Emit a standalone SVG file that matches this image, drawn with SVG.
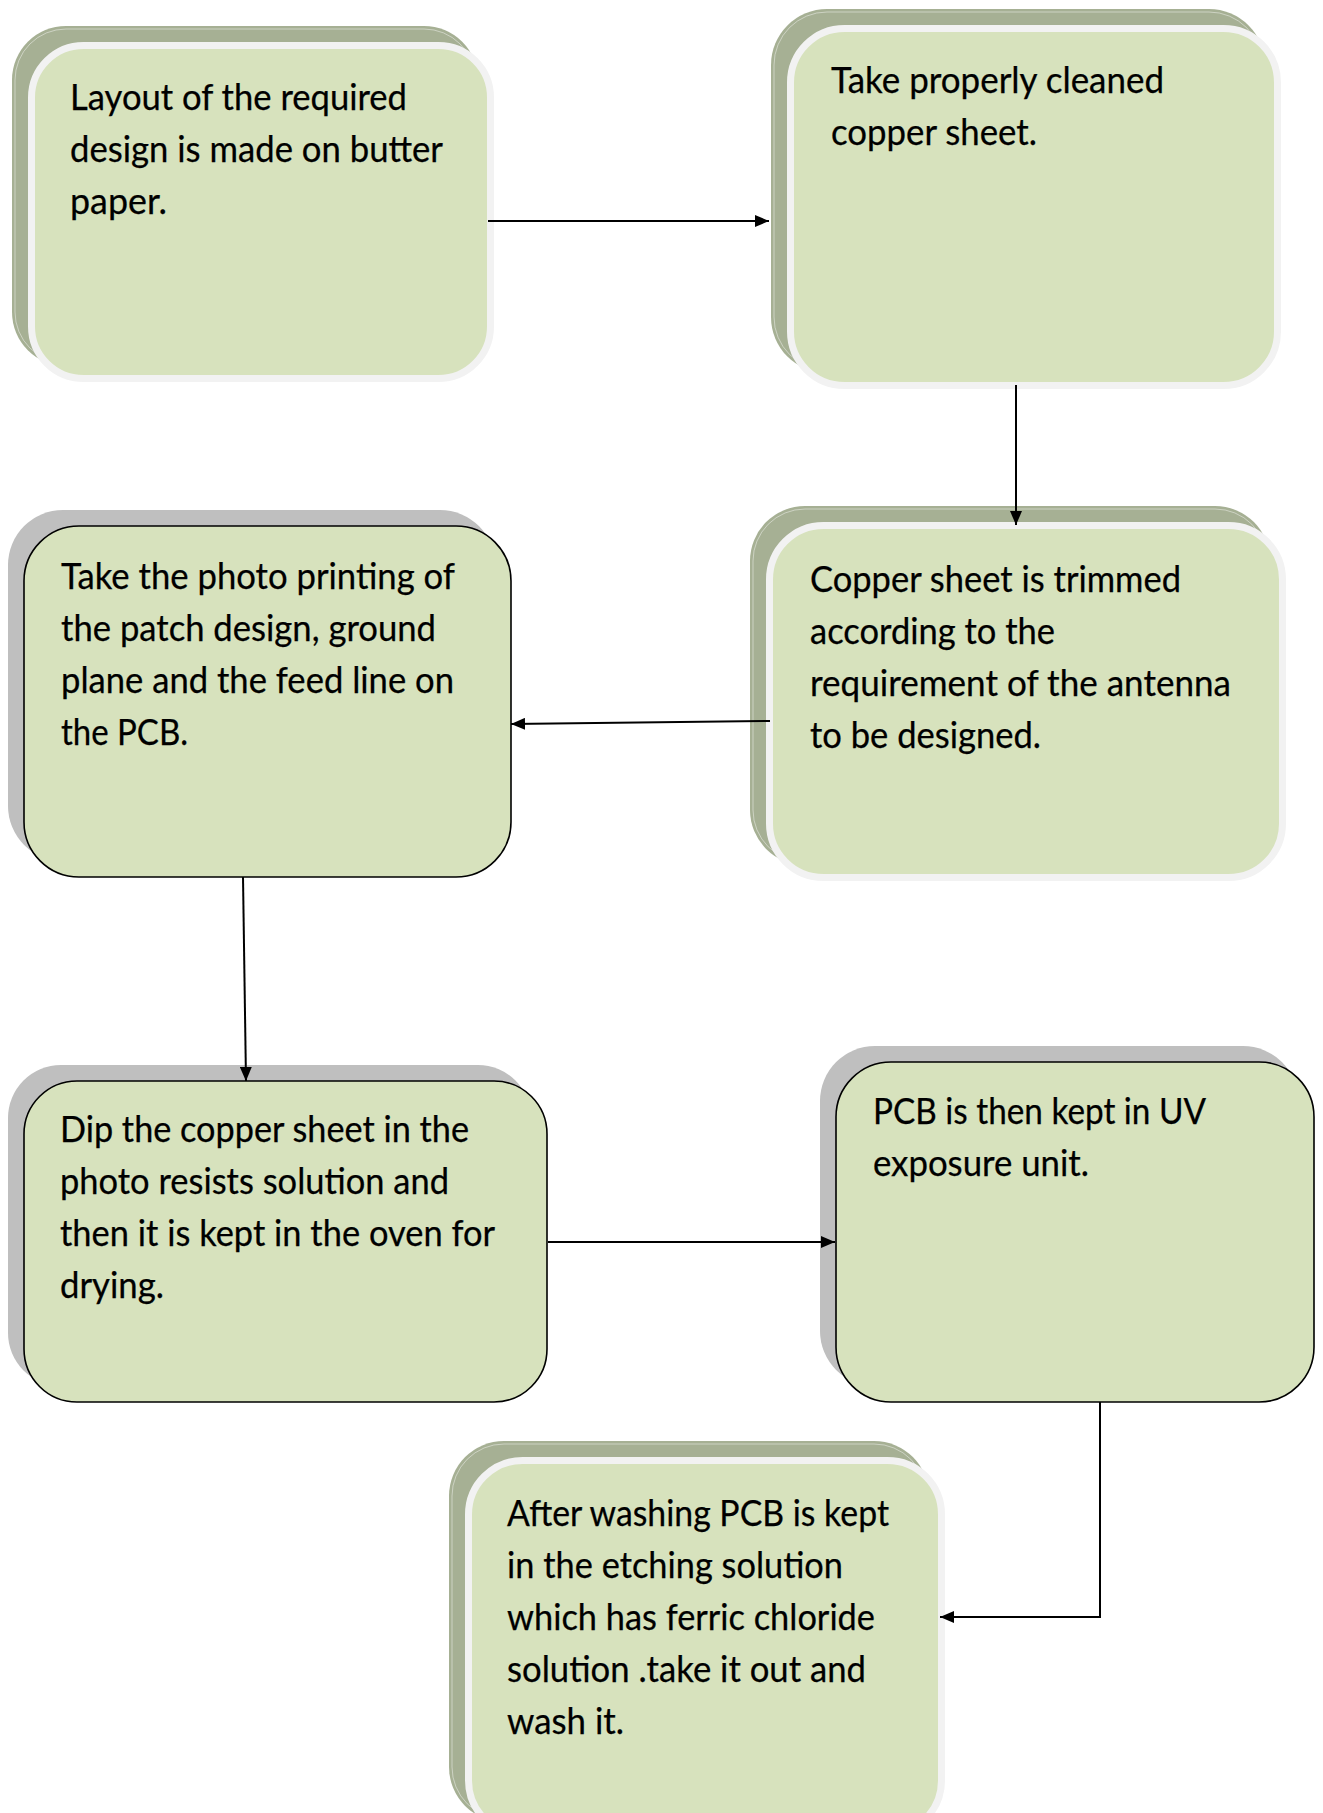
<svg xmlns="http://www.w3.org/2000/svg" width="1323" height="1813" viewBox="0 0 1323 1813">
<defs>
<style>
.sh1{fill:#a6b094;stroke:none}
.shl{fill:none;stroke:#ffffff;stroke-width:0.8;stroke-opacity:0.55}
.f1{fill:#d7e2bd;stroke:#f2f2f2;stroke-width:7}
.sh2{fill:#bfbfbf;stroke:none}
.f2{fill:#d7e2bd;stroke:#000000;stroke-width:1.6}
text{font-family:Lato,"Open Sans","Liberation Sans",sans-serif;font-size:36px;fill:#000000;stroke:#000000;stroke-width:0.25}
.con{fill:none;stroke:#000000;stroke-width:2}
</style>
<marker id="arr" viewBox="0 0 14 12" markerWidth="14" markerHeight="12" refX="14" refY="6" orient="auto" markerUnits="userSpaceOnUse">
<path d="M0,0 L14,6 L0,12 Z" fill="#000000"/>
</marker>
</defs>
<rect width="1323" height="1813" fill="#ffffff"/>

<g id="node1">
<rect class="sh1" x="12" y="26" width="466" height="340" rx="54"/>
<rect class="shl" x="15" y="29" width="460" height="334" rx="51"/>
<rect class="f1" x="31.5" y="45.5" width="459" height="333" rx="52"/>
<text x="70" y="110" textLength="337" lengthAdjust="spacingAndGlyphs">Layout of the required</text>
<text x="70" y="162" textLength="373" lengthAdjust="spacingAndGlyphs">design is made on butter</text>
<text x="70" y="214" textLength="97" lengthAdjust="spacingAndGlyphs">paper.</text>
</g>

<g id="node2">
<rect class="sh1" x="771" y="9" width="494" height="364" rx="56"/>
<rect class="shl" x="774" y="12" width="488" height="358" rx="53"/>
<rect class="f1" x="790.5" y="28.5" width="487" height="357" rx="54"/>
<text x="831" y="93" textLength="333" lengthAdjust="spacingAndGlyphs">Take properly cleaned</text>
<text x="831" y="145" textLength="206" lengthAdjust="spacingAndGlyphs">copper sheet.</text>
</g>

<g id="node3">
<rect class="sh2" x="8" y="510" width="487" height="351" rx="55"/>
<rect class="f2" x="24" y="526" width="487" height="351" rx="55"/>
<text x="61" y="589" textLength="394" lengthAdjust="spacingAndGlyphs">Take the photo printing of</text>
<text x="61" y="641" textLength="375" lengthAdjust="spacingAndGlyphs">the patch design, ground</text>
<text x="61" y="693" textLength="393" lengthAdjust="spacingAndGlyphs">plane and the feed line on</text>
<text x="61" y="745" textLength="127" lengthAdjust="spacingAndGlyphs">the PCB.</text>
</g>

<g id="node4">
<rect class="sh1" x="750" y="506" width="520" height="359" rx="55"/>
<rect class="shl" x="753" y="509" width="514" height="353" rx="52"/>
<rect class="f1" x="769.5" y="525.5" width="513" height="352" rx="54"/>
<text x="810" y="592" textLength="371" lengthAdjust="spacingAndGlyphs">Copper sheet is trimmed</text>
<text x="810" y="644" textLength="245" lengthAdjust="spacingAndGlyphs">according to the</text>
<text x="810" y="696" textLength="421" lengthAdjust="spacingAndGlyphs">requirement of the antenna</text>
<text x="810" y="748" textLength="231" lengthAdjust="spacingAndGlyphs">to be designed.</text>
</g>

<g id="node5">
<rect class="sh2" x="8" y="1065" width="523" height="321" rx="53"/>
<rect class="f2" x="24" y="1081" width="523" height="321" rx="53"/>
<text x="60" y="1142" textLength="409" lengthAdjust="spacingAndGlyphs">Dip the copper sheet in the</text>
<text x="60" y="1194" textLength="389" lengthAdjust="spacingAndGlyphs">photo resists solution and</text>
<text x="60" y="1246" textLength="435" lengthAdjust="spacingAndGlyphs">then it is kept in the oven for</text>
<text x="60" y="1298" textLength="104" lengthAdjust="spacingAndGlyphs">drying.</text>
</g>

<g id="node6">
<rect class="sh2" x="820" y="1046" width="478" height="340" rx="55"/>
<rect class="f2" x="836" y="1062" width="478" height="340" rx="55"/>
<text x="873" y="1124" textLength="333" lengthAdjust="spacingAndGlyphs">PCB is then kept in UV</text>
<text x="873" y="1176" textLength="216" lengthAdjust="spacingAndGlyphs">exposure unit.</text>
</g>

<g id="node7">
<rect class="sh1" x="449" y="1441" width="480" height="381" rx="55"/>
<rect class="shl" x="452" y="1444" width="474" height="375" rx="52"/>
<rect class="f1" x="468.5" y="1460.5" width="473" height="374" rx="54"/>
<text x="507" y="1526" textLength="382" lengthAdjust="spacingAndGlyphs">After washing PCB is kept</text>
<text x="507" y="1578" textLength="336" lengthAdjust="spacingAndGlyphs">in the etching solution</text>
<text x="507" y="1630" textLength="368" lengthAdjust="spacingAndGlyphs">which has ferric chloride</text>
<text x="507" y="1682" textLength="359" lengthAdjust="spacingAndGlyphs">solution .take it out and</text>
<text x="507" y="1734" textLength="117" lengthAdjust="spacingAndGlyphs">wash it.</text>
</g>

<g id="connectors">
<path class="con" d="M488,221 L769,221" marker-end="url(#arr)"/>
<path class="con" d="M1016,385 L1016,525" marker-end="url(#arr)"/>
<path class="con" d="M770,721 L511,724" marker-end="url(#arr)"/>
<path class="con" d="M243,877 L246,1081" marker-end="url(#arr)"/>
<path class="con" d="M548,1242 L835,1242" marker-end="url(#arr)"/>
<path class="con" d="M1100,1402 L1100,1617 L940,1617" marker-end="url(#arr)"/>
</g>
</svg>
